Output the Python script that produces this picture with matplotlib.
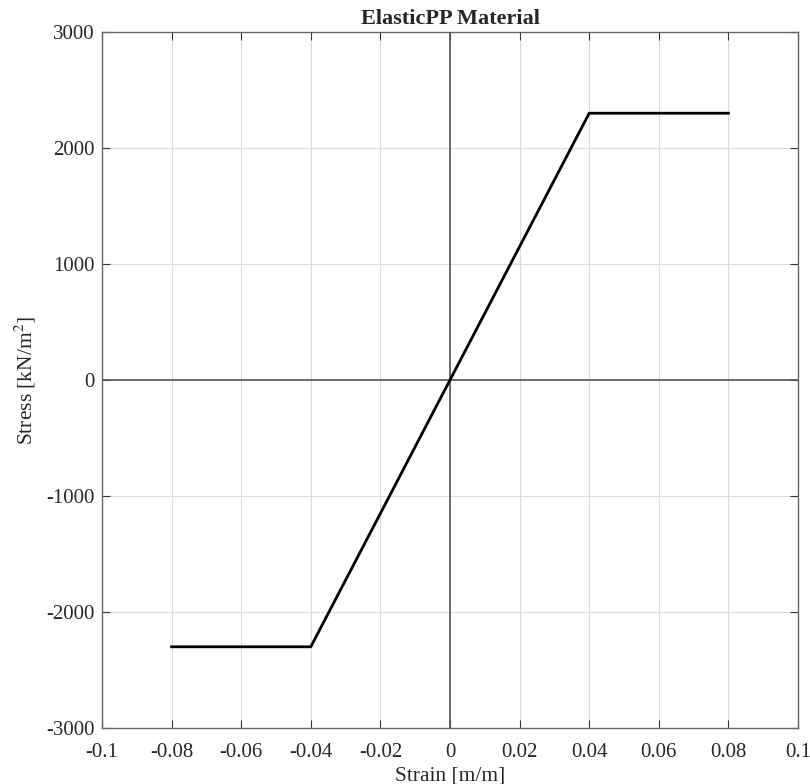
import matplotlib
matplotlib.use('Agg')
import matplotlib.pyplot as plt
import numpy as np

# ElasticPP stress-strain path
strain = [-0.08, -0.04, 0.0, 0.04, 0.08]
stress = [-2300, -2300, 0, 2300, 2300]

x_ticks = [-0.1, -0.08, -0.06, -0.04, -0.02, 0, 0.02, 0.04, 0.06, 0.08, 0.1]
x_labels = ['-0.1', '-0.08', '-0.06', '-0.04', '-0.02', '0', '0.02', '0.04', '0.06', '0.08', '0.1']
y_ticks = [-3000, -2000, -1000, 0, 1000, 2000, 3000]

plt.rcParams['font.family'] = ['Liberation Serif', 'DejaVu Serif']
plt.rcParams['mathtext.fontset'] = 'stix'
plt.rcParams['axes.unicode_minus'] = False

fig = plt.figure(figsize=(8.1, 7.84), dpi=100)
ax = fig.add_axes([102/810, 1 - 728/784, 696/810, 696/784])

ax.axhline(0, color='#555555', lw=1.2, zorder=1)
ax.axvline(0, color='#555555', lw=1.2, zorder=1)
ax.plot(strain, stress, color='black', lw=2, zorder=3)

ax.set_xlim(-0.1, 0.1)
ax.set_ylim(-3000, 3000)
ax.set_xticks(x_ticks)
ax.set_xticklabels(x_labels)
ax.set_yticks(y_ticks)
ax.grid(True, color='#dcdcdc', lw=0.8)
ax.set_axisbelow(True)
ax.tick_params(direction='in', length=6, width=0.8, color='#333333',
               labelsize=15, labelcolor='#262626', top=True, right=True)
ax.tick_params(axis='x', pad=11)
ax.tick_params(axis='y', pad=5)
for s in ax.spines.values():
    s.set_color('#666666')
    s.set_linewidth(1)

ax.set_xlabel('Strain [m/m]', fontsize=15.5, color='#262626', labelpad=3)
ax.set_ylabel('Stress [kN/m$^2$]', fontsize=15.5, color='#262626', labelpad=6)
ax.set_title('ElasticPP Material', fontsize=16, weight='bold', pad=6, color='#262626')

fig.savefig('out.png', dpi=100)
